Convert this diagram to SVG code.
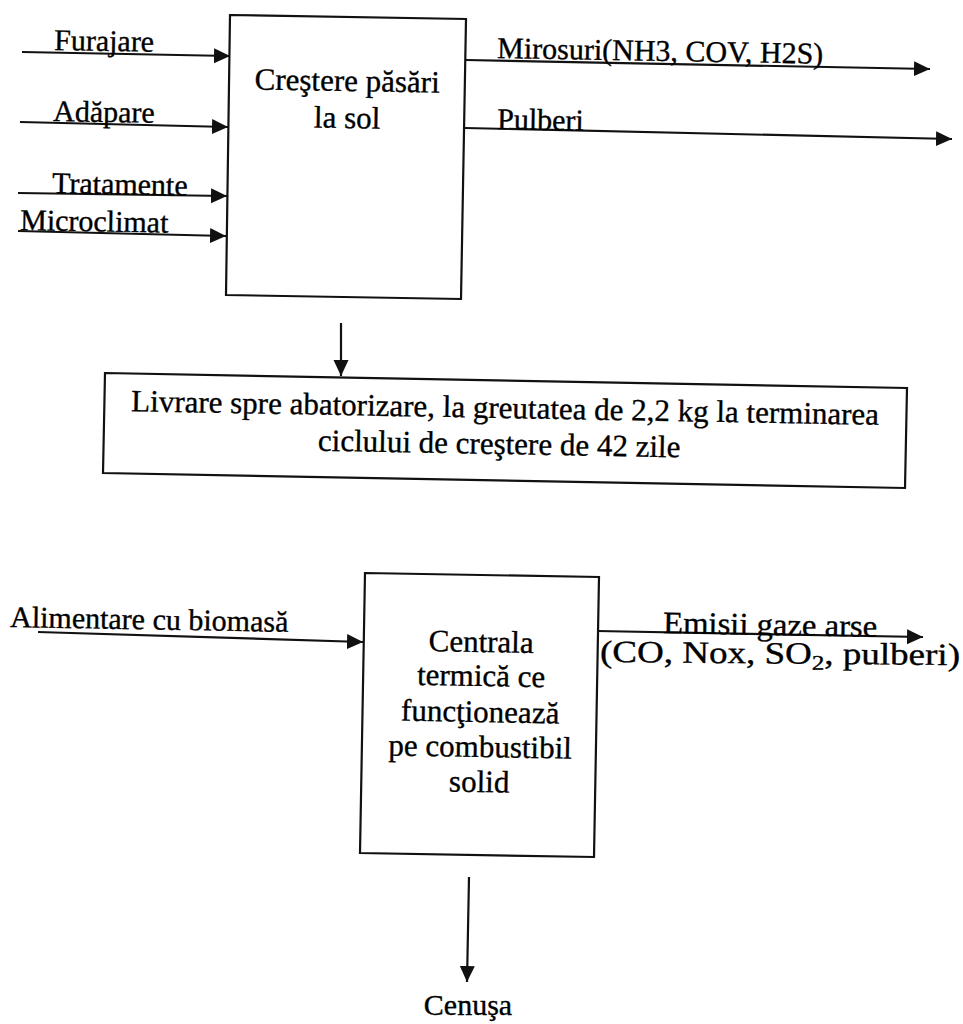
<svg xmlns="http://www.w3.org/2000/svg" width="963" height="1024" viewBox="0 0 963 1024" font-family="'Liberation Serif', 'Times New Roman', 'DejaVu Serif', serif">
<style>
text{font-family:'Liberation Serif','Times New Roman','DejaVu Serif',serif;fill:#000;stroke:#000;stroke-width:0.35;}
.lbl{font-size:30px;}
.bx{font-size:31px;text-anchor:middle;}
.box{fill:none;stroke:#111;stroke-width:2.2;}
.ln{stroke:#111;stroke-width:2.2;fill:none;marker-end:url(#ah);}
</style>
<defs>
<marker id="ah" markerUnits="userSpaceOnUse" markerWidth="17" markerHeight="16" refX="16" refY="7.5" orient="auto">
<path d="M0,0 L16,7.5 L0,15 z" fill="#111"/>
</marker>
</defs>
<rect width="963" height="1024" fill="#fff"/>
<g id="connectors">
<line class="ln" x1="22" y1="52" x2="230" y2="56"/>
<line class="ln" x1="20" y1="122" x2="228" y2="127"/>
<line class="ln" x1="18" y1="193" x2="227" y2="196"/>
<line class="ln" x1="18" y1="231" x2="226" y2="236"/>
<line class="ln" x1="466" y1="60" x2="930" y2="69"/>
<line class="ln" x1="465" y1="128" x2="952" y2="139"/>
<line class="ln" x1="341" y1="323" x2="341" y2="376"/>
<line class="ln" x1="38" y1="632" x2="363" y2="642"/>
<line class="ln" x1="597" y1="631" x2="923" y2="637"/>
<line class="ln" x1="469" y1="877" x2="467" y2="982"/>
</g>
<g id="labels">
<text class="lbl" x="54" y="50" transform="rotate(1 54 50)">Furajare</text>
<text class="lbl" x="53" y="121" transform="rotate(1 53 121)">Adăpare</text>
<text class="lbl" x="52" y="193" transform="rotate(1 52 193)">Tratamente</text>
<text class="lbl" x="20" y="230" transform="rotate(1 20 230)">Microclimat</text>
<text class="lbl" x="497" y="58" transform="rotate(1 497 58)">Mirosuri(NH3, COV, H2S)</text>
<text class="lbl" x="497" y="129" transform="rotate(1 497 129)">Pulberi</text>
<text class="lbl" x="10" y="627" transform="rotate(1 10 627)">Alimentare cu biomasă</text>
<text class="lbl" x="663" y="633" style="font-size:31px" textLength="214" lengthAdjust="spacingAndGlyphs" transform="rotate(1 663 633)">Emisii gaze arse</text>
<text class="lbl" x="600" y="662" style="font-size:31px" textLength="360" lengthAdjust="spacingAndGlyphs" transform="rotate(0.5 600 662)">(CO, Nox, SO<tspan style="font-size:21px" dy="6">2</tspan><tspan dy="-6">, pulberi)</tspan></text>
<text class="lbl" x="468" y="1015" text-anchor="middle">Cenuşa</text>
</g>
<g id="node-crestere">
<polygon class="box" points="230,15 466,19 461,299 226,295"/>
<text class="bx" x="347" y="91" transform="rotate(1 347 91)">Creştere păsări</text>
<text class="bx" x="347" y="128" transform="rotate(1 347 128)">la sol</text>
</g>
<g id="node-livrare">
<polygon class="box" points="105,373 907,388 905,488 103,473"/>
<text class="bx" x="505" y="418" transform="rotate(1.05 505 418)">Livrare spre abatorizare, la greutatea de 2,2 kg la terminarea</text>
<text class="bx" x="499" y="454" transform="rotate(1.05 499 454)">ciclului de creştere de 42 zile</text>
</g>
<g id="node-centrala">
<polygon class="box" points="365,573 599,577 594,857 360,853"/>
<text class="bx" x="481" y="652" transform="rotate(1 481 652)">Centrala</text>
<text class="bx" x="481" y="686" transform="rotate(1 481 686)">termică ce</text>
<text class="bx" x="480" y="722" transform="rotate(1 480 722)">funcţionează</text>
<text class="bx" x="480" y="757" transform="rotate(1 480 757)">pe combustibil</text>
<text class="bx" x="479" y="792" transform="rotate(1 479 792)">solid</text>
</g>
</svg>
